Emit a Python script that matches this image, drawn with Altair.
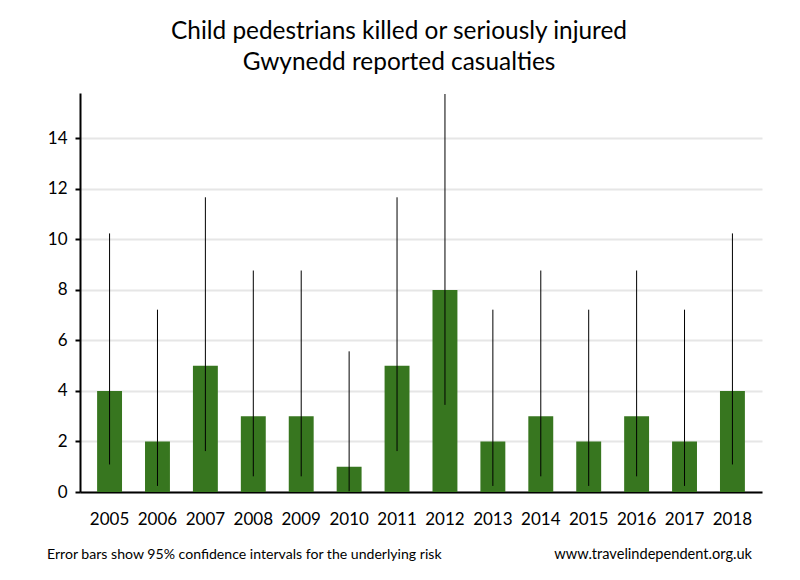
import altair as alt
import pandas as pd

years = ["2005", "2006", "2007", "2008", "2009", "2010", "2011",
         "2012", "2013", "2014", "2015", "2016", "2017", "2018"]
casualties = [4, 2, 5, 3, 3, 1, 5, 8, 2, 3, 2, 3, 2, 4]
ci_low = [1.09, 0.24, 1.62, 0.62, 0.62, 0.03, 1.62, 3.45, 0.24, 0.62, 0.24, 0.62, 0.24, 1.09]
ci_high = [10.24, 7.22, 11.67, 8.77, 8.77, 5.57, 11.67, 15.76, 7.22, 8.77, 7.22, 8.77, 7.22, 10.24]
y_ticks = [0, 2, 4, 6, 8, 10, 12, 14]

title_lines = ["Child pedestrians killed or seriously injured", "Gwynedd reported casualties"]
note_left = ["Error bars show 95% confidence intervals for the underlying risk"]
note_right = ["www.travelindependent.org.uk"]

df = pd.DataFrame({"year": years, "value": casualties, "lo": ci_low, "hi": ci_high})

FONT = "Lato"

x_enc = alt.X(
    "year:N",
    scale=alt.Scale(paddingInner=0.48, paddingOuter=0.357),
    axis=alt.Axis(title=None, labelAngle=0, ticks=False, domainColor="black",
                  domainWidth=2, labelFont=FONT, labelFontSize=17,
                  labelColor="black", labelPadding=19, grid=False),
)
y_scale = alt.Scale(domain=[0, 15.8], nice=False, zero=True)

bars = alt.Chart(df).mark_bar(color="#37761f").encode(
    x=x_enc,
    y=alt.Y("value:Q", scale=y_scale,
            axis=alt.Axis(title=None, values=y_ticks, domainColor="black",
                          domainWidth=2, tickColor="black", tickSize=5,
                          tickWidth=2, labelFont=FONT, labelFontSize=17,
                          labelColor="black", labelPadding=8, grid=True,
                          gridColor="#e6e6e6", gridWidth=2)),
)

errs = alt.Chart(df).mark_rule(color="black", strokeWidth=1).encode(
    x=alt.X("year:N"),
    y=alt.Y("lo:Q"),
    y2="hi:Q",
)

left_txt = alt.Chart(pd.DataFrame({"t": note_left})).mark_text(
    align="left", baseline="alphabetic", font=FONT, fontSize=14.1, color="black"
).encode(x=alt.value(-33), y=alt.value(466), text="t:N")

right_txt = alt.Chart(pd.DataFrame({"t": note_right})).mark_text(
    align="right", baseline="alphabetic", font=FONT, fontSize=14.6, color="black"
).encode(x=alt.value(672), y=alt.value(466), text="t:N")

chart = alt.layer(bars, errs, left_txt, right_txt).properties(
    width=682,
    height=399,
    autosize=alt.AutoSizeParams(type="none"),
    padding={"left": 72, "top": 85, "right": 30, "bottom": 80},
    title=alt.TitleParams(text=title_lines, font=FONT, fontSize=24.4,
                          fontWeight="normal", color="black", anchor="middle",
                          lineHeight=31, offset=18, dx=-22),
).configure_view(stroke=None)

chart.save("out.html", embed_options={"renderer": "svg", "actions": False})
